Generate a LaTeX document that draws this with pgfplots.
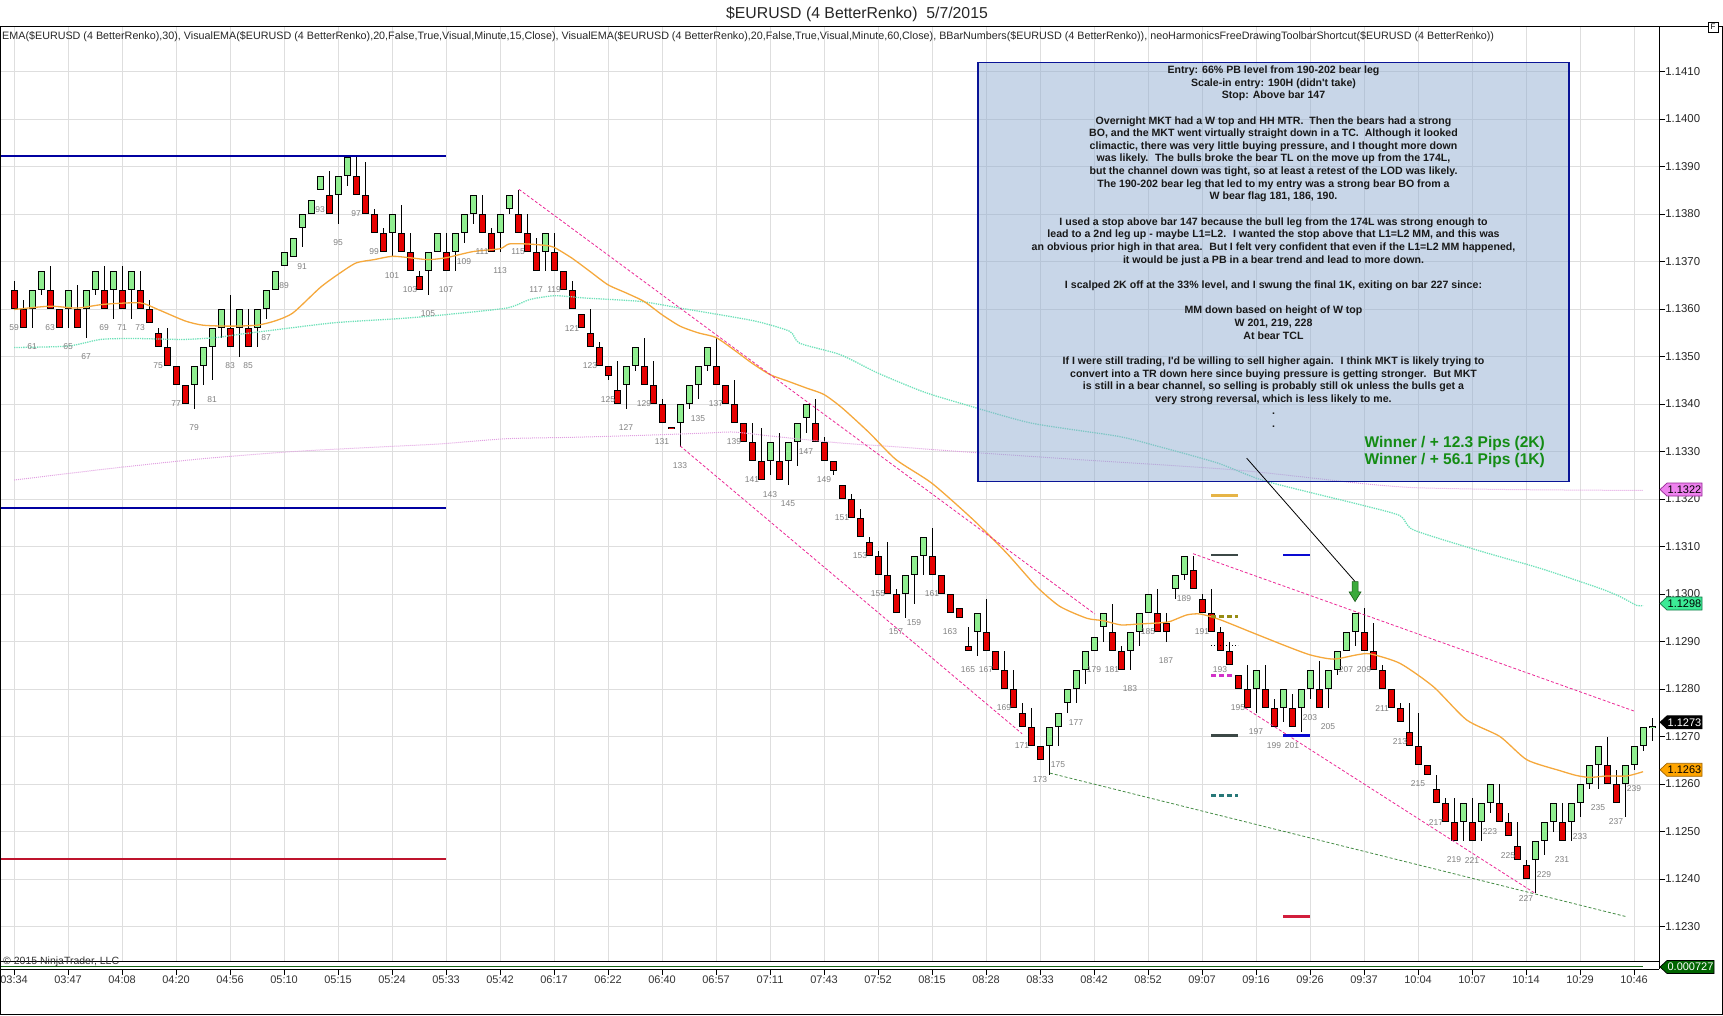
\documentclass[border=0pt]{standalone}
\usepackage{pgfplots}
\pgfplotsset{compat=1.18}
\usepackage{pgfplotstable}
\usepackage{fontspec}
\setmainfont{Liberation Sans}
\definecolor{candleG}{RGB}{144,238,144}
\definecolor{candleR}{RGB}{230,0,0}
\definecolor{emaOr}{RGB}{245,168,60}
\definecolor{emaCy}{RGB}{110,225,185}
\definecolor{emaPk}{RGB}{225,160,225}
\definecolor{chPink}{RGB}{235,40,150}
\definecolor{chGreen}{RGB}{70,140,70}
\definecolor{lvlBlue}{RGB}{0,0,160}
\definecolor{lvlRed}{RGB}{190,20,45}
\definecolor{gridc}{RGB}{222,222,222}
\definecolor{boxfill}{RGB}{145,173,209}
\definecolor{boxdraw}{RGB}{10,20,150}
\definecolor{winGreen}{RGB}{20,140,20}
\definecolor{lblGray}{RGB}{128,128,128}
\definecolor{mkGold}{RGB}{230,180,70}
\definecolor{mkSlate}{RGB}{60,72,70}
\definecolor{mkBlue}{RGB}{10,10,210}
\definecolor{mkOlive}{RGB}{150,140,20}
\definecolor{mkMag}{RGB}{210,50,200}
\definecolor{mkTeal}{RGB}{40,120,120}
\definecolor{mkCrim}{RGB}{210,30,60}
\definecolor{arrowG}{RGB}{60,170,60}
\definecolor{arrowGd}{RGB}{20,90,20}
\definecolor{flagVio}{RGB}{238,130,238}
\definecolor{flagVioD}{RGB}{150,40,150}
\definecolor{flagGrn}{RGB}{60,235,150}
\definecolor{flagGrnD}{RGB}{20,120,70}
\definecolor{flagOr}{RGB}{255,165,0}
\definecolor{flagOrD}{RGB}{160,100,0}
\definecolor{flagDk}{RGB}{0,100,0}
\definecolor{panelGreen}{RGB}{20,100,20}
\definecolor{boxtext}{RGB}{25,25,25}
\newcommand\barlblfont{\fontsize{8.5}{9}\selectfont}

\pgfplotstableread{
n o h l c
61 60 64 56 64
62 64 68 63 68
65 60 64 56 64
67 60 64 54 64
68 64 68 63 68
70 64 68 58 68
72 64 68 58 68
79 44 48 39 48
80 48 52 44 52
81 52 56 45 56
82 56 60 54 60
84 56 60 50 60
86 56 60 52 60
87 60 64 58 64
88 64 68 64 68
89 69 72 69 72
90 71 75 71 75
91 77 80 73 80
92 80 83 80 83
93 85 88 85 88
95 84 88 78 88
96 88 92 86 92
101 76 80 71 80
105 68 72 63 72
106 72 76 72 76
108 72 76 68 76
109 76 80 74 80
110 80 84 78 84
113 76 80 72 80
114 81 84 80 84
118 72 76 68 76
127 44 48 39 48
128 48 52 47 52
133 36 40 31 40
134 40 44 39 44
135 44 48 41 48
136 48 52 47 52
143 28 32 25 32
145 28 32 23 32
146 32 36 27 36
147 37 40 34 40
158 0 4 -5 4
159 4 8 -2 8
160 8 12 4 12
166 -8 -4 -13 -4
174 -32 -28 -38 -28
175 -28 -25 -32 -25
176 -23 -20 -25 -20
177 -20 -16 -23 -16
178 -16 -12 -19 -12
179 -12 -9 -12 -9
180 -7 -4 -10 -4
183 -12 -8 -16 -8
184 -8 -4 -11 -4
185 -4 0 -4 0
188 1 4 -1 4
189 4 8 3 8
197 -20 -16 -25 -16
200 -24 -20 -27 -20
202 -24 -20 -29 -20
203 -20 -16 -22 -16
205 -20 -16 -24 -16
206 -16 -12 -17 -12
207 -12 -8 -12 -8
208 -8 -4 -11 -4
220 -48 -44 -52 -44
222 -48 -44 -52 -44
223 -44 -40 -46 -40
228 -56 -52 -63 -52
229 -52 -48 -55 -48
230 -48 -44 -50 -44
232 -48 -44 -52 -44
233 -44 -40 -47 -40
234 -40 -36 -41 -36
235 -36 -32 -41 -32
238 -40 -36 -47 -36
239 -36 -32 -37 -32
240 -32 -28 -33 -28
241 -28.2 -26 -31 -27.8
}\greenbars

\pgfplotstableread{
n o h l c
59 64 66 60 60
60 60 62 56 56
63 64 69 60 60
64 60 60 56 56
66 60 65 56 56
69 64 69 60 60
71 64 69 60 60
73 64 68 60 60
74 60 62 57 57
75 55 56 52 52
76 52 56 48 48
77 48 48 44 44
78 44 44 40 40
83 56 63 52 52
85 56 60 52 52
94 84 89 80 80
97 88 92 84 84
98 84 91 80 80
99 80 81 76 76
100 76 77 72 72
102 76 82 72 72
103 72 76 68 68
104 67 68 64 64
107 72 76 68 68
111 80 84 76 76
112 76 77 72 72
115 80 85 76 76
116 76 80 72 72
117 72 75 68 68
119 72 76 68 68
120 68 68 64 64
121 64 66 60 60
122 59 59 56 56
123 55 60 52 52
124 52 53 48 48
125 48 48 45 46
126 43 49 40 40
129 48 54 44 44
130 44 49 40 40
131 40 41 36 36
132 35.2 35.2 34.8 34.8
137 48 54 44 44
138 44 44 40 40
139 40 45 36 36
140 36 36 32 32
141 32 36 28 28
142 28 35 24 24
144 28 34 24 24
148 36 41 32 32
149 32 33 28 28
150 28 28 25 26
151 23 23 20 20
152 20 21 16 16
153 16 18 12 12
154 11 12 8 8
155 8 9 4 4
156 4 11 0 0
157 0 1 -4 -4
161 8 14 4 4
162 4 4 0 0
163 0 0 -4 -4
164 -3 -3 -5 -5
165 -11 -7 -12 -12
167 -8 -1 -12 -12
168 -12 -12 -16 -16
169 -16 -12 -20 -20
170 -20 -16 -24 -24
171 -25 -23 -28 -28
172 -28 -24 -32 -32
173 -32 -32 -35 -35
181 -8 -2 -12 -12
182 -12 -11 -16 -16
186 -4 1 -8 -8
187 -6 -4 -10 -8
190 5 8 1 1
191 -1 0 -4 -4
192 -4 1 -8 -8
193 -8 -7 -12 -12
194 -12 -10 -15 -15
195 -17 -17 -20 -20
196 -20 -15 -24 -24
198 -20 -15 -24 -24
199 -24 -22 -28 -28
201 -24 -21 -28 -28
204 -20 -14 -24 -24
209 -8 -3 -12 -12
210 -12 -6 -16 -16
211 -16 -15 -20 -20
212 -20 -20 -24 -24
213 -24 -23 -27 -27
214 -29 -23 -32 -32
215 -32 -25 -36 -36
216 -36 -36 -38 -38
217 -41 -38 -44 -44
218 -44 -43 -48 -48
219 -48 -43 -52 -52
221 -48 -43 -52 -52
224 -44 -40 -48 -48
225 -48 -46 -51 -51
226 -53 -48 -56 -56
227 -57 -56 -60 -60
231 -48 -44 -52 -52
236 -36 -30 -40 -40
237 -40 -37 -44 -44
}\redbars

\begin{document}
\begin{tikzpicture}[x=1pt,y=1pt]
\path[use as bounding box] (0,0) rectangle (1723,1015);

\begin{axis}[
  at={(0pt,53.3pt)}, anchor=south west,
  x=9pt, y=4.75pt,
  xmin=57.44, xmax=241.78, ymin=-77.4, ymax=119.4,
  axis line style={draw=none},
  xtick=\empty,
  ytick={-70,-60,...,110},
  yticklabels={1.1230,1.1240,1.1250,1.1260,1.1270,1.1280,1.1290,1.1300,1.1310,1.1320,1.1330,1.1340,1.1350,1.1360,1.1370,1.1380,1.1390,1.1400,1.1410},
  ytick pos=right, yticklabel pos=right,
  tick align=outside, major tick length=6pt,
  ytick style={black, line width=0.8pt},
  yticklabel style={font=\fontsize{11.4}{12}\selectfont, text=black!85, inner sep=0pt, anchor=west},
  ymajorgrids, grid style={gridc, line width=0.8pt},
  clip=false,
]
% vertical grid lines at the time ticks
\pgfplotsinvokeforeach{59,65,71,77,83,89,95,101,107,113,119,125,131,137,143,149,155,161,167,173,179,185,191,197,203,209,215,221,227,233,239}{
  \draw[gridc, line width=0.8pt] (axis cs:#1,-77.4) -- (axis cs:#1,119.4);
}
% level lines
\addplot[lvlBlue, line width=2pt, forget plot] coordinates {(57.44,92.2) (107,92.2)};
\addplot[lvlBlue, line width=2pt, forget plot] coordinates {(57.44,18.1) (107,18.1)};
\addplot[lvlRed, line width=2pt, forget plot] coordinates {(57.44,-55.8) (107,-55.8)};

% candles: wicks
\addplot[draw=none, mark=none, forget plot, error bars/.cd, y dir=both, y explicit, error mark=none,
  error bar style={draw=black, line width=1pt}]
  table[x=n, y expr={(\thisrow{h}+\thisrow{l})/2}, y error expr={(\thisrow{h}-\thisrow{l})/2}] \greenbars;
\addplot[draw=none, mark=none, forget plot, error bars/.cd, y dir=both, y explicit, error mark=none,
  error bar style={draw=black, line width=1pt}]
  table[x=n, y expr={(\thisrow{h}+\thisrow{l})/2}, y error expr={(\thisrow{h}-\thisrow{l})/2}] \redbars;
% bodies outline
\addplot[draw=none, mark=none, forget plot, error bars/.cd, y dir=both, y explicit, error mark=none,
  error bar style={draw=black, line width=7pt}]
  table[x=n, y expr={(\thisrow{o}+\thisrow{c})/2}, y error expr={abs(\thisrow{c}-\thisrow{o})/2}] \greenbars;
\addplot[draw=none, mark=none, forget plot, error bars/.cd, y dir=both, y explicit, error mark=none,
  error bar style={draw=black, line width=7pt}]
  table[x=n, y expr={(\thisrow{o}+\thisrow{c})/2}, y error expr={abs(\thisrow{c}-\thisrow{o})/2}] \redbars;
% bodies fill
\addplot[draw=none, mark=none, forget plot, error bars/.cd, y dir=both, y explicit, error mark=none,
  error bar style={draw=candleG, line width=5pt}]
  table[x=n, y expr={(\thisrow{o}+\thisrow{c})/2}, y error expr={max(abs(\thisrow{c}-\thisrow{o})/2-0.21,0.01)}] \greenbars;
\addplot[draw=none, mark=none, forget plot, error bars/.cd, y dir=both, y explicit, error mark=none,
  error bar style={draw=candleR, line width=5pt}]
  table[x=n, y expr={(\thisrow{o}+\thisrow{c})/2}, y error expr={max(abs(\thisrow{c}-\thisrow{o})/2-0.21,0.01)}] \redbars;

% VisualEMA 60 (pink dotted)
\addplot[emaPk, line width=1pt, densely dotted, smooth, tension=0.4, forget plot] coordinates {
(59,24) (70,26.5) (80,28.5) (90,30) (100,31) (106.3,31.6) (113.7,32.7) (121.1,33) (128.6,33.4) (136,33.9) (139,34.1) (143.4,33.2) (150.8,31.8) (157,31) (164.1,30) (177.3,28.3) (194.9,26.1) (208.6,23.3) (214.6,22.4) (225,22) (240,21.8)};
% VisualEMA 15 (cyan dotted)
\addplot[emaCy, line width=1.3pt, densely dotted, smooth, tension=0.4, forget plot] coordinates {
(59,51.9) (65,52.2) (68.6,53.6) (72.3,53.8) (77.8,53.6) (81.5,54) (84.1,54.7) (87.1,55.4) (94.5,57.1) (101.9,58) (106.3,58.7) (113.7,60.2) (116.3,62) (119.1,62.8) (122.6,62.3) (128.6,61.6) (133,60.2) (137.1,58.9) (141.5,57.4) (145.2,55.3) (146.3,52.8) (150.8,50.4) (155,46.5) (160,42.6) (164.1,40.2) (172,36) (181.7,33.2) (186.1,31.1) (192.7,27.6) (198,23.8) (208.6,18.8) (213,16.5) (214.5,13.5) (222,9) (228.6,5.4) (235.2,1.2) (237.4,-0.5) (239.3,-2.4) (240,-2.4)};
% EMA 30 (orange)
\addplot[emaOr, line width=1.3pt, smooth, tension=0.4, forget plot] coordinates {
(59,59.9) (63,60.6) (66,60.2) (69,61) (73,61.3) (75,59.9) (78,57.5) (80,56.6) (83,56.4) (86,56.6) (88,57.5) (90,59.2) (93,64.5) (95,67.3) (97,69.7) (99,70.4) (101,71.1) (103,70.8) (105,70.4) (107,70.8) (110,72.1) (113,72.7) (114,73.7) (116,73.7) (118,73.4) (119,73) (121,70.7) (123,67.9) (125,65.1) (127,63.4) (129,61.6) (131,58.8) (133,56.4) (135,55) (137,54) (139,51.4) (141,48.6) (143,46.2) (145,44.8) (147,43.4) (149,42) (151,39.2) (154,34) (157,28.3) (161,23.3) (165.6,15.6) (169.3,8.6) (172.6,1.6) (175.2,-2.6) (178.2,-5.1) (180,-5.6) (182,-6.5) (184,-6.3) (186,-6.1) (187.4,-5.8) (189.3,-4.4) (190.8,-4.2) (193,-5.4) (196.3,-7.9) (200,-10.7) (203,-12.8) (205.6,-13.7) (208.2,-12.8) (209.7,-12.6) (213,-14.6) (216.7,-19.5) (220.4,-26.5) (224.1,-30) (227.1,-34.9) (230.8,-37.2) (232.6,-38.2) (234.1,-38.6) (236,-38.3) (238.2,-38.3) (240,-37.4)};

% channel lines
\addplot[chPink, line width=0.8pt, dash pattern=on 3pt off 2pt, forget plot] coordinates {(115.1,85.2) (179.1,-4.2)};
\addplot[chPink, line width=0.8pt, dash pattern=on 3pt off 2pt, forget plot] coordinates {(133,31.2) (171,-29.4)};
\addplot[chPink, line width=0.8pt, dash pattern=on 3pt off 2pt, forget plot] coordinates {(190,8.5) (239.1,-24.7)};
\addplot[chPink, line width=0.8pt, dash pattern=on 3pt off 2pt, forget plot] coordinates {(195.8,-24) (228,-63)};
\addplot[chGreen, line width=0.8pt, dash pattern=on 3pt off 2pt, forget plot] coordinates {(174.1,-37.7) (238.1,-67.9)};

% small level markers
\addplot[mkGold, line width=2.7pt, forget plot] coordinates {(192,20.7) (195,20.7)};
\addplot[mkSlate, line width=2.7pt, forget plot] coordinates {(192,8.25) (195,8.25)};
\addplot[mkBlue, line width=2.7pt, forget plot] coordinates {(200,8.25) (203,8.25)};
\addplot[mkOlive, line width=2.7pt, dash pattern=on 5pt off 3pt, forget plot] coordinates {(192,-4.7) (195,-4.7)};
\addplot[black, line width=1pt, dotted, forget plot] coordinates {(192,-10.9) (195,-10.9)};
\addplot[mkMag, line width=2.7pt, dash pattern=on 5pt off 3pt, forget plot] coordinates {(192,-17.2) (194.5,-17.2)};
\addplot[mkSlate, line width=2.7pt, forget plot] coordinates {(192,-29.8) (195,-29.8)};
\addplot[mkBlue, line width=2.7pt, forget plot] coordinates {(200,-29.8) (203,-29.8)};
\addplot[mkTeal, line width=2.7pt, dash pattern=on 5pt off 3pt, forget plot] coordinates {(192,-42.4) (195,-42.4)};
\addplot[mkCrim, line width=2.7pt, forget plot] coordinates {(200,-67.9) (203,-67.9)};

% bar numbers
\foreach \n/\l in {59/60,61/56,63/60,65/56,67/54,69/60,71/60,73/60,75/52,77/44,79/39,81/45,83/52,85/52,87/58,89/69,91/73,93/85,95/78,97/84,99/76,101/71,103/68,105/63,107/68,109/74,111/76,113/72,115/76,117/68,119/68,121/60,123/52,125/45,127/39,129/44,131/36,133/31,135/41,137/44,139/36,141/28,143/25,145/23,147/34,149/28,151/20,153/12,155/4,157/-4,159/-2,161/4,163/-4,165/-12,167/-12,169/-20,171/-28,173/-35,175/-32,177/-23,179/-12,181/-12,183/-16,185/-4,187/-10,189/3,191/-4,193/-12,195/-20,197/-25,199/-28,201/-28,203/-22,205/-24,207/-12,209/-12,211/-20,213/-27,215/-36,217/-44,219/-52,221/-52,223/-46,225/-51,227/-60,229/-55,231/-52,233/-47,235/-41,237/-44,239/-37} {
  \edef\tmp{\noexpand\node[font=\noexpand\barlblfont, text=lblGray, inner sep=0pt, yshift=-19pt] at (axis cs:\n,\l) {\n};}
  \tmp
}

% text box
\filldraw[fill=boxfill, fill opacity=0.5, draw=boxdraw, draw opacity=1, line width=1.4pt] (axis cs:166.11,111.89) rectangle (axis cs:231.78,23.68);
\node[anchor=north, align=center, inner sep=0pt, font=\fontsize{10.6}{12.65}\selectfont\bfseries, text=boxtext] at (axis cs:198.94,111.26) {%
Entry: 66\% PB level from 190-202 bear leg\\
Scale-in entry: 190H (didn\textquotesingle t take)\\
Stop: Above bar 147\\
\mbox{}\\
Overnight MKT had a W top and HH MTR.~ Then the bears had a strong\\
BO, and the MKT went virtually straight down in a TC.~ Although it looked\\
climactic, there was very little buying pressure, and I thought more down\\
was likely.~ The bulls broke the bear TL on the move up from the 174L,\\
but the channel down was tight, so at least a retest of the LOD was likely.\\
The 190-202 bear leg that led to my entry was a strong bear BO from a\\
W bear flag 181, 186, 190.\\
\mbox{}\\
I used a stop above bar 147 because the bull leg from the 174L was strong enough to\\
lead to a 2nd leg up - maybe L1=L2.~ I wanted the stop above that L1=L2 MM, and this was\\
an obvious prior high in that area.~ But I felt very confident that even if the L1=L2 MM happened,\\
it would be just a PB in a bear trend and lead to more down.\\
\mbox{}\\
I scalped 2K off at the 33\% level, and I swung the final 1K, exiting on bar 227 since:\\
\mbox{}\\
MM down based on height of W top\\
W 201, 219, 228\\
At bear TCL\\
\mbox{}\\
If I were still trading, I\textquotesingle d be willing to sell higher again.~ I think MKT is likely trying to\\
convert into a TR down here since buying pressure is getting stronger.~ But MKT\\
is still in a bear channel, so selling is probably still ok unless the bulls get a\\
very strong reversal, which is less likely to me.\\
.\\
.};
\node[anchor=east, inner sep=0pt, font=\fontsize{15.5}{17}\selectfont\bfseries, text=winGreen] at (axis cs:229.11,31.77) {Winner / + 12.3 Pips (2K)};
\node[anchor=east, inner sep=0pt, font=\fontsize{15.5}{17}\selectfont\bfseries, text=winGreen] at (axis cs:229.11,28.11) {Winner / + 56.1 Pips (1K)};

% arrow
\draw[black, line width=0.8pt] (axis cs:195.96,28.6) -- (axis cs:208,2.63);
\filldraw[fill=arrowG, draw=arrowGd, line width=0.6pt] (axis cs:207.667,2.63) -- (axis cs:208.333,2.63) -- (axis cs:208.333,0.46) -- (axis cs:208.667,0.46) -- (axis cs:208,-1.58) -- (axis cs:207.333,0.46) -- (axis cs:207.667,0.46) -- cycle;
\end{axis}

% thin indicator panel with time axis
\begin{axis}[
  at={(0pt,46pt)}, anchor=south west,
  x=9pt, y=7.3pt, xmin=57.44, xmax=241.78, ymin=0, ymax=1,
  axis line style={draw=none},
  ytick=\empty,
  xtick={59,65,...,239},
  xticklabels={03:34,03:47,04:08,04:20,04:56,05:10,05:15,05:24,05:33,05:42,06:17,06:22,06:40,06:57,07:11,07:43,07:52,08:15,08:28,08:33,08:42,08:52,09:07,09:16,09:26,09:37,10:04,10:07,10:14,10:29,10:46},
  xtick pos=bottom, tick align=outside, major tick length=6pt,
  xtick style={black, line width=0.8pt},
  xticklabel style={font=\fontsize{11}{12}\selectfont, text=black!80, inner sep=1pt},
]
\addplot[panelGreen, line width=0.8pt] coordinates {(57.44,0.315) (240,0.315)};
\end{axis}

% frame
\draw[black, line width=1pt] (0,988) -- (1723,988);
\draw[black, line width=1pt] (0.5,988) -- (0.5,0.5) -- (1722.5,0.5) -- (1722.5,988);
\draw[black, line width=1pt] (1659,988) -- (1659,46);
\draw[black, line width=1pt] (0,53.3) -- (1659,53.3);
\draw[black, line width=1pt] (0,46) -- (1659,46);
\filldraw[fill=white, draw=black, line width=0.6pt] (1708,983) rectangle (1718,993);
\node[font=\fontsize{8}{9}\selectfont, inner sep=0pt] at (1713,988) {F};

% titles
\node[font=\fontsize{15.8}{18}\selectfont, text=black!85] at (857,1001) {\$EURUSD (4 BetterRenko)\ \ 5/7/2015};
\node[anchor=west, inner sep=0pt, text=black!85] at (2,978) {\resizebox{1492pt}{!}{\fontsize{10}{12}\selectfont EMA(\$EURUSD (4 BetterRenko),30), VisualEMA(\$EURUSD (4 BetterRenko),20,False,True,Visual,Minute,15,Close), VisualEMA(\$EURUSD (4 BetterRenko),20,False,True,Visual,Minute,60,Close), BBarNumbers(\$EURUSD (4 BetterRenko)), neoHarmonicsFreeDrawingToolbarShortcut(\$EURUSD (4 BetterRenko))}};
\node[anchor=base west, font=\fontsize{10.5}{12}\selectfont, text=black!80, inner sep=0pt] at (3,50.5) {© 2015 NinjaTrader, LLC};

% price flags
\filldraw[fill=flagVio, draw=flagVioD, line width=0.7pt] (1660,525.45) -- (1667,531.95) -- (1702,531.95) -- (1702,518.95) -- (1667,518.95) -- cycle;
\node[font=\fontsize{11}{12}\selectfont, text=black] at (1684.5,525.45) {1.1322};
\filldraw[fill=flagGrn, draw=flagGrnD, line width=0.7pt] (1660,411.45) -- (1667,417.95) -- (1702,417.95) -- (1702,404.95) -- (1667,404.95) -- cycle;
\node[font=\fontsize{11}{12}\selectfont, text=black] at (1684.5,411.45) {1.1298};
\filldraw[fill=black, draw=black, line width=0.7pt] (1660,292.7) -- (1667,299.2) -- (1702,299.2) -- (1702,286.2) -- (1667,286.2) -- cycle;
\node[font=\fontsize{11}{12}\selectfont, text=white] at (1684.5,292.7) {1.1273};
\filldraw[fill=flagOr, draw=flagOrD, line width=0.7pt] (1660,245.2) -- (1667,251.7) -- (1702,251.7) -- (1702,238.7) -- (1667,238.7) -- cycle;
\node[font=\fontsize{11}{12}\selectfont, text=black] at (1684.5,245.2) {1.1263};
\filldraw[fill=flagDk, draw=black, line width=0.7pt] (1660,48) -- (1667,54.5) -- (1714,54.5) -- (1714,41.5) -- (1667,41.5) -- cycle;
\node[font=\fontsize{11}{12}\selectfont, text=white] at (1690.5,48) {0.000727};
\end{tikzpicture}
\end{document}
